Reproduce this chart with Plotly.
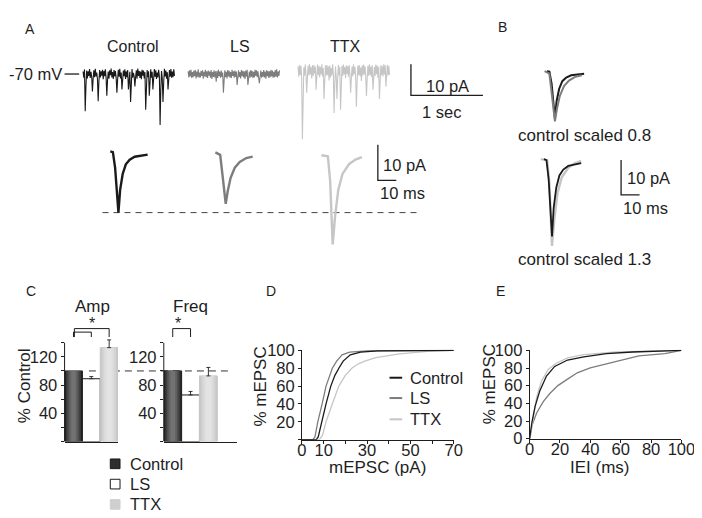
import numpy as np
import plotly.graph_objects as go

W, H = 702, 518
FONT = "Liberation Sans, Arial, Helvetica, sans-serif"
INK = "#1e1e1e"
COL = {"Control": "#1a1a1a", "LS": "#7d7d7d", "TTX": "#c6c6c6"}
FS = 16.5

# ============================ DATA ============================
conditions = ["Control", "LS", "TTX"]

# Panel A - example recordings (pA, relative to holding current), one sample per 10 ms
sample_interval_s = 0.01
raw_control = [
    0.8, -1.2, 1.5, -12.0, -4.0, 1.1, -1.4, 0.9, -0.6, 1.6,
    -1.3, 0.7, -0.9, -5.6, -1.5, 1.2, -1.0, 1.7, -0.8, 0.5,
    -1.6, -8.8, -2.5, 1.3, -1.1, 0.9, -0.5, 1.4, -1.7, 1.0,
    -0.7, 1.5, -1.2, -7.0, -2.0, 0.8, -1.5, 1.2, -0.4, 1.8,
    -1.1, 0.6, -1.6, 1.3, -0.8, 1.0, -1.3, -6.0, -1.8, 1.4,
    -0.9, 1.7, -1.4, 0.5, -5.0, -1.2, 1.1, -0.7, 1.5, -1.6,
    0.9, -1.0, 1.3, -5.0, -1.5, 0.7, -9.0, -2.6, 1.6, -1.2,
    0.4, -0.8, -4.0, -1.0, 1.2, -1.5, 1.8, -0.6, 1.0, -1.3,
    0.8, -1.7, 1.4, -0.5, 1.1, -1.4, 0.6, -11.5, -3.5, 1.3,
    -1.0, 0.9, -7.0, -2.0, 1.5, -1.2, 0.7, -5.0, -1.5, 1.6,
    -0.9, 1.2, -1.6, 0.5, -1.1, 1.4, -0.7, -16.5, -5.0, 1.0,
    -1.3, -9.0, -2.8, 1.7, -0.8, 1.1, -1.5, 0.6, -5.0, -1.4,
    1.3, -0.9, 1.6, -1.2, 0.8, -1.0, 1.5, -0.6,
]
raw_ls = [
    0.9, -1.1, 1.2, -0.8, 1.4, -1.3, 0.6, -1.0, 1.1, -0.7,
    1.3, -1.4, 0.8, -0.9, 1.5, -1.2, 0.5, -1.1, 1.0, -0.6,
    1.2, -1.5, 0.7, -0.8, 1.4, -1.0, 0.9, -1.3, 1.1, -0.5,
    0.8, -1.2, 1.3, -1.6, 0.6, -0.9, 1.2, -1.1, 0.9, -2.5,
    1.0, -1.3, 1.4, -0.7, 0.8, -1.2, 1.1, -0.9, 0.5, -6.0,
    -2.0, 1.2, -1.0, 0.7, -1.4, 1.3, -0.8, 1.0, -1.1, 0.6,
    -1.3, 1.4, -0.6, 0.9, -1.2, 1.1, -0.9, 0.8, -3.5, -1.2,
    1.2, -1.0, 0.6, -1.4, 1.3, -0.7, 1.0, -1.1, 0.9, -1.6,
    1.1, -0.8, 1.4, -3.5, -1.0, 0.8, -1.2, 1.3, -0.9, 1.0,
    -1.3, 0.7, -1.1, 1.4, -0.6, 1.2, -1.0, 0.9, -1.4, -3.0,
    -0.8, 1.1, -1.2, 0.6, -0.9, 1.3, -1.1, 0.8, -1.5, 1.2,
    -0.7, 1.0, -1.3, 0.9, -1.0, 1.4, -0.8, 1.1, -1.2, 0.7,
    -1.0, 1.3, -0.9, 1.5, -1.1, 0.8, -0.6, 1.2,
]
raw_ttx = [
    1.5, -1.8, 2.0, -1.2, 1.7, -2.2, -22.0, -6.0, 1.2, -1.5,
    2.1, -0.9, -7.0, -2.0, 1.8, -1.4, 2.2, -1.1, 1.3, -2.4,
    1.9, -1.6, 2.0, -0.8, 1.5, -6.0, -1.8, 2.1, -1.3, 1.7,
    -2.0, 1.4, -1.1, 2.2, -1.7, 1.0, -9.0, -3.0, 1.9, -1.5,
    2.0, -1.2, 1.6, -3.0, 1.8, -2.1, 1.1, -1.4, 2.2, -1.0,
    -13.5, -4.0, 1.5, -1.9, -9.0, -2.5, 2.0, -1.3, 1.4, -12.5,
    -3.8, 1.7, -1.6, 2.1, -1.1, 1.3, -2.2, 1.9, -0.9, 1.6,
    -1.8, 2.0, -1.2, -7.0, -2.2, 1.5, -1.7, 2.2, -1.0, 1.4,
    -2.1, -11.5, -3.5, 1.8, -1.3, 2.0, -1.6, 1.2, -3.2, 1.9,
    -1.4, 2.1, -1.1, 1.6, -2.0, -8.0, -2.4, 1.7, -1.5, 2.2,
    -1.2, 1.5, -1.9, 2.0, -6.0, -1.8, 1.3, -1.6, 2.1, -1.0,
    1.8, -2.2, 1.4, -9.0, -2.8, 2.0, -1.3, 1.6, -1.7, 2.2,
    -1.1, 1.9, -5.0, -1.6, 2.0, -1.4, 1.7, -1.2,
]
holding_label = "-70 mV"
raw_scalebar_s = 1.0
raw_scalebar_pA = 10.0

# Panel A - averaged mEPSCs (time in ms, current in pA)
mini_time_control = [0, 1.4, 2.6, 3.5, 4.4, 5.3, 6.7, 8.4, 10.5, 13.2, 16.7, 20.2]
mini_control = [0, -0.2, -4.5, -11.7, -17.1, -10.8, -6.3, -3.6, -2.3, -1.5, -1.2, -0.9]
mini_time_ls = [0, 2.6, 4.0, 5.6, 6.7, 8.2, 10.5, 13.2, 16.7, 20.2]
mini_ls = [0, -0.7, -7.0, -14.4, -10.8, -7.2, -4.3, -2.7, -1.6, -1.2]
mini_time_ttx = [0, 3.5, 4.7, 6.1, 7.4, 9.1, 11.4, 14.9, 18.4, 21.9]
mini_ttx = [0, -0.3, -7.0, -24.9, -17.0, -9.7, -5.2, -2.5, -1.2, -0.5]
mini_scalebar_ms = 10.0
mini_scalebar_pA = 10.0

# Panel B - control mEPSC scaled to the LS and TTX averages
scale_factor_ls = 0.8
scale_factor_ttx = 1.3

# Panel C - % of control (mean, SEM)
amp_mean = [100, 89, 133]
amp_sem = [0, 3, 11]
freq_mean = [100, 66, 93]
freq_sem = [0, 5, 12]

# Panel D - cumulative amplitude distributions (pA, %)
d_ctrl_x = [0, 6.6, 7.5, 9.1, 11.1, 13.3, 15.2, 17.0, 19.0, 22.3, 27, 35, 70]
d_ctrl_y = [0, 0, 3, 20, 40, 60, 72, 80, 88, 95, 98, 99.5, 100]
d_ls_x = [0, 5.0, 6.0, 7.3, 9.3, 11.1, 14.0, 16.0, 18.5, 22.0, 30, 70]
d_ls_y = [0, 0, 3, 20, 40, 60, 80, 88, 95, 98, 99.5, 100]
d_ttx_x = [0, 8.0, 9.5, 11.1, 14.0, 17.0, 20.0, 23.0, 26.0, 29.0, 34.0, 45.0, 58.0, 70]
d_ttx_y = [0, 0, 5, 20, 40, 60, 72, 80, 85, 88, 92, 96, 99, 100]

# Panel E - cumulative inter-event interval distributions (ms, %)
e_ctrl_x = [0, 1.5, 3.6, 6.8, 11.1, 16.5, 25.0, 35.7, 50.6, 67.7, 100]
e_ctrl_y = [0, 18.5, 36.6, 54.7, 71.0, 81.8, 89.1, 92.7, 96.4, 98.2, 100]
e_ls_x = [0, 1.5, 4.7, 9.0, 13.3, 18.6, 25.0, 31.4, 39.9, 50.6, 61.3, 72.0, 89.1, 100]
e_ls_y = [0, 14.9, 29.3, 42.0, 51.1, 60.1, 67.4, 74.6, 80.1, 84.4, 89.1, 93.8, 96.4, 100]
e_ttx_x = [0, 0.4, 2.6, 4.7, 7.9, 12.2, 17.5, 25.0, 35.7, 57.0, 100]
e_ttx_y = [0, 0.3, 25.8, 47.5, 65.5, 78.3, 85.5, 91.6, 95.3, 98.2, 100]

# ============================ FIGURE ============================
fig = go.Figure()
axes_layout = {}
shapes = []
annotations = []
counter = [0]


def new_axes(box, xmap=None, ymap=None, xrange=None, yrange=None):
    """box = (left, top, right, bottom) in pixels; maps = (origin_px, px_per_unit)."""
    counter[0] += 1
    k = counter[0]
    sfx = "" if k == 1 else str(k)
    l, t, r, b = box
    if xmap is not None:
        ox, sx = xmap
        xrange = [(l - ox) / sx, (r - ox) / sx]
    if ymap is not None:
        oy, sy = ymap
        yrange = [(oy - b) / sy, (oy - t) / sy]
    axes_layout["xaxis" + sfx] = dict(domain=[l / W, r / W], range=xrange, anchor="y" + sfx,
                                      visible=False, showgrid=False, zeroline=False, fixedrange=True)
    axes_layout["yaxis" + sfx] = dict(domain=[1 - b / H, 1 - t / H], range=yrange, anchor="x" + sfx,
                                      visible=False, showgrid=False, zeroline=False, fixedrange=True)
    return "x" + sfx, "y" + sfx


def lay(ref):
    return ("xaxis" if ref[0] == "x" else "yaxis") + ref[1:]


def line(xa, ya, x, y, color, width=1.0):
    fig.add_trace(go.Scatter(x=x, y=y, xaxis=xa, yaxis=ya, mode="lines",
                             line=dict(color=color, width=width), showlegend=False, hoverinfo="skip"))


def text(s, x, y, size=FS, xanchor="center", yanchor="middle", angle=0):
    annotations.append(dict(text=s, x=x / W, y=1 - y / H, xref="paper", yref="paper",
                            xanchor=xanchor, yanchor=yanchor, showarrow=False, textangle=angle,
                            font=dict(family=FONT, size=size, color=INK)))


def pshape(kind, x0, y0, x1, y1, **kw):
    d = dict(type=kind, xref="paper", yref="paper", x0=x0 / W, x1=x1 / W, y0=1 - y0 / H, y1=1 - y1 / H)
    d.update(kw)
    shapes.append(d)


# ---------- Panel A: raw traces ----------
RAW_SX, RAW_SY = 74.0, 3.2
for name, data, (ox, oy) in [("Control", raw_control, (72, 60)),
                             ("LS", raw_ls, (180, 60)),
                             ("TTX", raw_ttx, (293, 57))]:
    xa, ya = new_axes((ox - 3, 30, ox + 100, 140), xmap=(ox, RAW_SX), ymap=(oy, RAW_SY))
    t = np.arange(len(data)) * sample_interval_s
    line(xa, ya, t, data, COL[name], 1.1)

xa, ya = new_axes((400, 40, 495, 90), xmap=(409, RAW_SX), ymap=(82, RAW_SY))
line(xa, ya, [0, 0, raw_scalebar_s], [raw_scalebar_pA, 0, 0], INK, 1.3)
text("10 pA", 447, 72)
text("1 sec", 440, 99)
text("Control", 123, 32, size=16)
text("LS", 233, 32, size=16)
text("TTX", 342, 32, size=16)
text(holding_label, 52, 60, xanchor="right")
pshape("line", 53, 60, 68, 60, line=dict(color=INK, width=1.3))

# ---------- Panel A: averaged mEPSCs ----------
MINI_SX, MINI_SY = 1.9, 3.7
mini_axes = {}
for name, tt, yy, (ox, oy) in [("Control", mini_time_control, mini_control, (100, 140)),
                               ("LS", mini_time_ls, mini_ls, (208, 141)),
                               ("TTX", mini_time_ttx, mini_ttx, (317, 144))]:
    xa, ya = new_axes((ox - 4, oy - 12, ox + 50, oy + 100), xmap=(ox, MINI_SX), ymap=(oy, MINI_SY))
    mini_axes[name] = (xa, ya)
    line(xa, ya, tt, yy, COL[name], 2.4)

peak_ctrl = min(mini_control)
shapes.append(dict(type="line", xref="paper", x0=92 / W, x1=415 / W,
                   yref=mini_axes["Control"][1], y0=peak_ctrl, y1=peak_ctrl,
                   line=dict(color="#444", width=1, dash="6px,5px"), layer="below"))

xa, ya = new_axes((368, 125, 400, 178), xmap=(375, MINI_SX), ymap=(170, MINI_SY))
line(xa, ya, [0, 0, mini_scalebar_ms], [mini_scalebar_pA, 0, 0], INK, 1.3)
text("10 pA", 402, 154)
text("10 ms", 400, 183)

# ---------- Panel B: scaled overlays ----------
B_SX, B_SY = 1.9, 3.6


def aligned(tt, yy):
    tp = tt[int(np.argmin(yy))]
    return [v - tp for v in tt]


ctrl_al = aligned(mini_time_control, mini_control)
xa, ya = new_axes((530, 40, 600, 130), xmap=(557, B_SX), ymap=(57, B_SY))
line(xa, ya, ctrl_al, [v * scale_factor_ls for v in mini_control], COL["Control"], 2.0)
line(xa, ya, aligned(mini_time_ls, mini_ls), mini_ls, COL["LS"], 2.0)

xa, ya = new_axes((530, 130, 600, 250), xmap=(554, B_SX), ymap=(148, B_SY))
line(xa, ya, aligned(mini_time_ttx, mini_ttx), mini_ttx, COL["TTX"], 2.4)
line(xa, ya, ctrl_al, [v * scale_factor_ttx for v in mini_control], COL["Control"], 1.8)

xa, ya = new_axes((615, 140, 660, 195), xmap=(625, B_SX), ymap=(185, B_SY))
line(xa, ya, [0, 0, mini_scalebar_ms], [mini_scalebar_pA, 0, 0], INK, 1.3)
text("10 pA", 653, 167)
text("10 ms", 650, 199)
text(f"control scaled {scale_factor_ls}", 587, 124, size=17)
text(f"control scaled {scale_factor_ttx}", 587, 252, size=17)

# ---------- Panel C: bars ----------
# each bar is painted as a few nested layers to mimic the shaded (cylindrical) fill
BAR_LAYERS = {
    "Control": [(1.0, "#262626"), (0.84, "#3a3a3a"), (0.66, "#4f4f4f"), (0.46, "#636363"), (0.26, "#727272")],
    "LS": [(1.0, "#ffffff")],
    "TTX": [(1.0, "#c8c8c8"), (0.78, "#d4d4d4"), (0.54, "#dddddd"), (0.3, "#e3e3e3")],
}
BAR_EDGE = {"Control": "#1a1a1a", "LS": "#1a1a1a", "TTX": "#c8c8c8"}
C_PX_PER_UNIT = 0.73
c_top = 440 - 175 * C_PX_PER_UNIT
xa_amp, ya_amp = new_axes((53, c_top, 108, 440), xrange=[-0.5, 2.5], yrange=[0, 175])
xa_fr, ya_fr = new_axes((155, c_top, 230, 440), xrange=[-0.5, (230 - 155) / 18.33 - 0.5], yrange=[0, 175])

for xa, ya, means, sems in [(xa_amp, ya_amp, amp_mean, amp_sem), (xa_fr, ya_fr, freq_mean, freq_sem)]:
    for i, cond in enumerate(conditions):
        for j, (wfrac, color) in enumerate(BAR_LAYERS[cond]):
            first = j == 0
            fig.add_trace(go.Bar(
                x=[i], y=[means[i]], width=[wfrac], xaxis=xa, yaxis=ya, showlegend=False, hoverinfo="skip",
                marker=dict(color=color, line=dict(color=BAR_EDGE[cond] if first else color,
                                                   width=1 if first else 0)),
            ))
        if sems[i] > 0:
            fig.add_trace(go.Scatter(
                x=[i], y=[means[i]], xaxis=xa, yaxis=ya, mode="markers", showlegend=False,
                hoverinfo="skip", marker=dict(size=1, color="rgba(0,0,0,0)"),
                error_y=dict(type="data", symmetric=False, array=[sems[i]], arrayminus=[0],
                             color="#333333", thickness=1, width=2),
            ))
    axes_layout[lay(xa)].update(visible=True, showline=True, linecolor=INK, linewidth=1,
                                showticklabels=False, ticks="")
    axes_layout[lay(ya)].update(visible=True, showline=False, ticks="outside", ticklen=3, tickwidth=1,
                                tickcolor=INK, tickvals=[0, 20, 40, 60, 80, 100, 120, 140],
                                ticktext=["", "", "40", "", "80", "", "120", ""],
                                tickfont=dict(family=FONT, size=FS, color=INK))
    shapes.append(dict(type="line", xref=xa + " domain", x0=0, x1=0, yref=ya, y0=0, y1=140,
                       line=dict(color=INK, width=1)))

shapes.append(dict(type="line", xref="paper", x0=78 / W, x1=222 / W, yref=ya_amp, y0=100, y1=100,
                   line=dict(color="#333", width=1, dash="7px,5px"), layer="below"))

# significance brackets
line(xa_amp, ya_amp, [0, 0, 1, 1], [148, 155, 155, 148], INK, 1)
line(xa_amp, ya_amp, [0.05, 0.05, 2, 2], [148, 160, 160, 148], INK, 1)
line(xa_fr, ya_fr, [0, 0, 1, 1], [148, 160, 160, 148], INK, 1)
text("*", 81, 318, size=16)
text("*", 170, 318, size=16)
text("Amp", 82, 300, size=17)
text("Freq", 182, 300, size=17)
text("% Control", 12, 382, size=17, angle=-90)

# legend for C
LEG_FILL = {"Control": "#2e2e2e", "LS": "#ffffff", "TTX": "#cfcfcf"}
for cond, cy in zip(conditions, [463, 484, 505]):
    pshape("rect", 100, cy - 5, 110, cy + 5, fillcolor=LEG_FILL[cond],
           line=dict(color="#1a1a1a" if cond != "TTX" else LEG_FILL[cond], width=1))
    text(cond, 118, cy, xanchor="left")

# ---------- Panel D / E: cumulative plots ----------
tick_font = dict(family=FONT, size=FS, color=INK)
common = dict(visible=True, showline=True, linecolor=INK, linewidth=1, ticks="outside", ticklen=3,
              tickwidth=1, tickcolor=INK, tickfont=tick_font)

xa_d, ya_d = new_axes((297, 345, 453, 438), xrange=[0, 70], yrange=[0, 100.8])
axes_layout[lay(xa_d)].update(common, tickvals=[0, 10, 20, 30, 40, 50, 60, 70],
                              ticktext=["0", "10", "", "30", "", "50", "", "70"], ticklabelstandoff=-7)
axes_layout[lay(ya_d)].update(common, tickvals=[0, 20, 40, 60, 80, 100],
                              ticktext=["", "20", "40", "60", "80", "100"])
line(xa_d, ya_d, d_ttx_x, d_ttx_y, COL["TTX"], 1.3)
line(xa_d, ya_d, d_ls_x, d_ls_y, COL["LS"], 1.3)
line(xa_d, ya_d, d_ctrl_x, d_ctrl_y, COL["Control"], 1.3)
text("% mEPSC", 254, 383, size=17, angle=-90)
text("mEPSC (pA)", 375, 467, size=17)
for cond, cy in zip(conditions, [374, 395, 417]):
    pshape("line", 387, cy, 400, cy, line=dict(color=COL[cond], width=2))
    text(cond, 406, cy, xanchor="left")

xa_e, ya_e = new_axes((531, 345, 687, 437), xrange=[0, 100], yrange=[0, 100.8])
axes_layout[lay(xa_e)].update(common, tickvals=[0, 20, 40, 60, 80, 100], ticklabelstandoff=-7)
axes_layout[lay(ya_e)].update(common, tickvals=[0, 20, 40, 60, 80, 100])
line(xa_e, ya_e, e_ls_x, e_ls_y, COL["LS"], 1.3)
line(xa_e, ya_e, e_ttx_x, e_ttx_y, COL["TTX"], 1.3)
line(xa_e, ya_e, e_ctrl_x, e_ctrl_y, COL["Control"], 1.3)
text("% mEPSC", 490, 381, size=17, angle=-90)
text("IEI (ms)", 603, 467, size=17)

# panel letters
for letter, lx, ly in [("A", 17, 13), ("B", 503, 11), ("C", 19, 284), ("D", 265, 284), ("E", 501, 284)]:
    text(letter, lx, ly, size=14)

fig.update_layout(
    width=W, height=H, margin=dict(l=0, r=0, t=0, b=0),
    paper_bgcolor="white", plot_bgcolor="rgba(0,0,0,0)",
    barmode="overlay", showlegend=False,
    font=dict(family=FONT, size=FS, color=INK),
    shapes=shapes, annotations=annotations, **axes_layout,
)
fig.write_html("out.html")
